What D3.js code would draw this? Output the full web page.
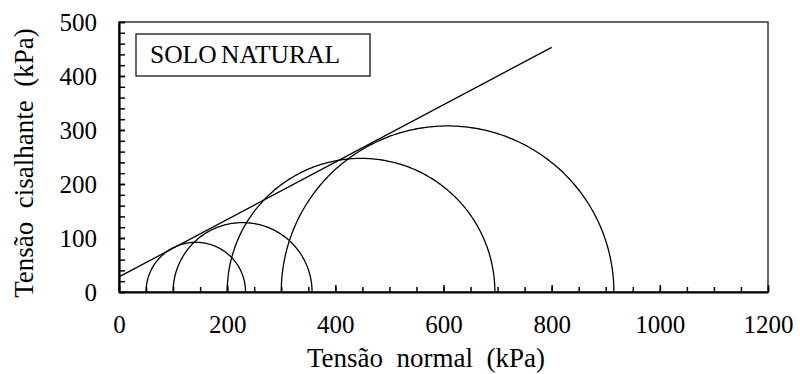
<!DOCTYPE html>
<html>
<head>
<meta charset="utf-8">
<script src="https://cdn.jsdelivr.net/npm/d3@7"></script>
<style>
  html, body { margin: 0; padding: 0; background: #fff; }
  svg { display: block; }
</style>
</head>
<body>
<svg id="chart" width="800" height="374"></svg>
<script>
// Mohr circles: minor and major principal stresses (kPa)
const sigma3 = [50, 100, 200, 300];
const sigma1 = [234, 357, 695, 915];
// Failure envelope endpoints
const envelopeSigma = [0, 800];
const envelopeTau = [28, 453];
// Axis ticks
const xMajorTicks = [0, 200, 400, 600, 800, 1000, 1200];
const xMinorTicks = d3.range(0, 1201, 50);
const yMajorTicks = [0, 100, 200, 300, 400, 500];
const yMinorTicks = d3.range(0, 501, 20);
const legendLabel = "SOLO NATURAL";
const xTitle = "Tensão  normal  (kPa)";
const yTitle = "Tensão  cisalhante  (kPa)";

const FONT = "Liberation Serif";
const svg = d3.select("#chart");
const L = 119, R = 768, T = 22, B = 292;
const x = d3.scaleLinear().domain([0, 1200]).range([L, R]);
const y = d3.scaleLinear().domain([0, 500]).range([B, T]);
const fmt = d3.format("d");

// frame (top/right)
svg.append("rect").attr("x", L).attr("y", T).attr("width", R - L).attr("height", B - T)
  .attr("fill", "none").attr("stroke", "#333").attr("stroke-width", 1.5);

// minor ticks
svg.append("g").attr("transform", `translate(0,${B})`)
  .call(d3.axisBottom(x).tickValues(xMinorTicks).tickSize(-5).tickFormat(""))
  .call(g => g.select(".domain").remove())
  .selectAll("line").attr("stroke", "#000").attr("stroke-width", 1.5);
svg.append("g").attr("transform", `translate(${L},0)`)
  .call(d3.axisLeft(y).tickValues(yMinorTicks).tickSize(-6).tickFormat(""))
  .call(g => g.select(".domain").remove())
  .selectAll("line").attr("stroke", "#000").attr("stroke-width", 1.5);

// major x axis
const gx = svg.append("g").attr("transform", `translate(0,${B})`)
  .call(d3.axisBottom(x).tickValues(xMajorTicks).tickFormat(fmt).tickSize(-7).tickPadding(23).tickSizeOuter(0));
gx.select(".domain").attr("stroke", "#000").attr("stroke-width", 2.2);
gx.selectAll("line").attr("stroke", "#000").attr("stroke-width", 1.5);
gx.selectAll("text").style("font-family", FONT).style("font-size", "25px").attr("fill", "#000");

// major y axis
const gy = svg.append("g").attr("transform", `translate(${L},0)`)
  .call(d3.axisLeft(y).tickValues(yMajorTicks).tickFormat(fmt).tickSize(-6).tickPadding(22).tickSizeOuter(0));
gy.select(".domain").attr("stroke", "#000").attr("stroke-width", 2.2);
gy.selectAll("line").attr("stroke", "#000").attr("stroke-width", 1.5);
gy.selectAll("text").style("font-family", FONT).style("font-size", "25px").attr("fill", "#000");

// Mohr circles
const arcLine = d3.line().x(d => x(d[0])).y(d => y(d[1]));
const angles = d3.range(0, 181, 1).map(a => a * Math.PI / 180);
sigma3.forEach((s3, i) => {
  const c = (s3 + sigma1[i]) / 2, r = (sigma1[i] - s3) / 2;
  const pts = angles.map(t => [c + r * Math.cos(t), r * Math.sin(t)]);
  svg.append("path").attr("d", arcLine(pts)).attr("fill", "none")
    .attr("stroke", "#000").attr("stroke-width", 1.3);
});

// envelope
svg.append("path")
  .attr("d", arcLine(envelopeSigma.map((s, i) => [s, envelopeTau[i]])))
  .attr("fill", "none").attr("stroke", "#000").attr("stroke-width", 1.3);

// legend box
svg.append("rect").attr("x", 136).attr("y", 34).attr("width", 234).attr("height", 42)
  .attr("fill", "#fff").attr("stroke", "#000").attr("stroke-width", 1.2);
svg.append("text").attr("x", 150).attr("y", 63)
  .style("font-family", FONT).style("font-size", "25.5px")
  .style("word-spacing", "-2px").text(legendLabel);

// titles
svg.append("text").attr("x", 426).attr("y", 367)
  .style("font-family", FONT).style("font-size", "27px")
  .attr("text-anchor", "middle").style("white-space", "pre").text(xTitle);
svg.append("text").attr("transform", "translate(33,163) rotate(-90)")
  .style("font-family", FONT).style("font-size", "27px")
  .attr("text-anchor", "middle").style("white-space", "pre").text(yTitle);
</script>
</body>
</html>
